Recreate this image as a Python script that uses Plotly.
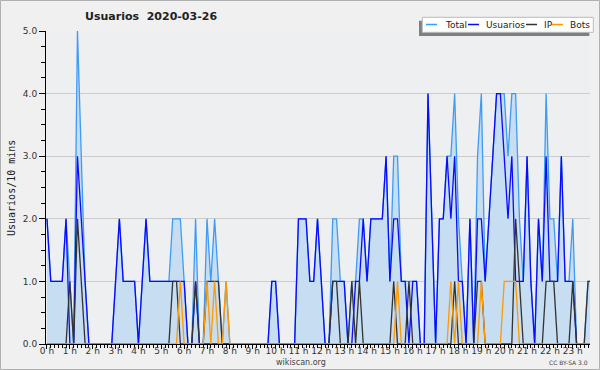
import plotly.graph_objects as go

# 10-minute slots, 6 per hour, 144 per day
slots = list(range(144))

usuarios = [
    2, 1, 1, 1, 1, 2,
    0, 0, 3, 2, 1, 0,
    0, 0, 0, 0, 0, 0,
    1, 2, 1, 1, 1, 1,
    0, 1, 2, 1, 1, 1,
    1, 1, 1, 1, 1, 1,
    1, 0, 0, 1, 0, 0,
    0, 0, 0, 0, 0, 0,
    0, 0, 0, 0, 0, 0,
    0, 0, 0, 0, 0, 1,
    1, 0, 0, 0, 0, 0,
    2, 2, 2, 1, 1, 2,
    1, 0, 0, 1, 1, 1,
    1, 0, 0, 1, 1, 2,
    1, 2, 2, 2, 2, 3,
    1, 2, 2, 1, 1, 0,
    1, 1, 0, 0, 4, 2,
    0, 2, 2, 3, 2, 3,
    1, 1, 0, 2, 0, 2,
    2, 1, 2, 3, 4, 4,
    3, 2, 3, 1, 1, 1,
    3, 1, 0, 2, 1, 3,
    1, 1, 1, 3, 1, 1,
    1, 0, 0, 0, 0, 0,
]

ip = [
    0, 0, 0, 0, 0, 0,
    1, 0, 2, 1, 0, 0,
    0, 0, 0, 0, 0, 0,
    0, 0, 0, 0, 0, 0,
    0, 0, 0, 0, 0, 0,
    0, 0, 0, 1, 1, 0,
    0, 0, 0, 1, 0, 0,
    1, 1, 1, 1, 0, 0,
    0, 0, 0, 0, 0, 0,
    0, 0, 0, 0, 0, 0,
    0, 0, 0, 0, 0, 0,
    0, 0, 0, 0, 0, 0,
    0, 0, 0, 1, 1, 0,
    0, 0, 1, 0, 1, 0,
    0, 0, 0, 0, 0, 0,
    0, 1, 0, 0, 0, 1,
    0, 0, 0, 0, 0, 0,
    0, 0, 0, 0, 0, 1,
    0, 0, 0, 0, 0, 1,
    1, 0, 0, 0, 0, 0,
    0, 0, 0, 2, 1, 0,
    0, 0, 0, 0, 0, 1,
    1, 1, 0, 0, 0, 0,
    1, 0, 0, 0, 1, 1,
]

bots = [
    0, 0, 0, 0, 0, 0,
    0, 0, 0, 0, 0, 0,
    0, 0, 0, 0, 0, 0,
    0, 0, 0, 0, 0, 0,
    0, 0, 0, 0, 0, 0,
    0, 0, 0, 0, 0, 1,
    0, 0, 0, 0, 0, 0,
    1, 0, 1, 0, 0, 1,
    0, 0, 0, 0, 0, 0,
    0, 0, 0, 0, 0, 0,
    0, 0, 0, 0, 0, 0,
    0, 0, 0, 0, 0, 0,
    0, 0, 0, 0, 0, 0,
    0, 0, 0, 0, 0, 0,
    0, 0, 0, 0, 0, 0,
    0, 0, 1, 0, 0, 0,
    0, 0, 0, 0, 0, 0,
    0, 0, 0, 0, 1, 0,
    1, 0, 0, 0, 0, 0,
    1, 0, 0, 0, 0, 0,
    1, 1, 1, 1, 0, 0,
    0, 0, 0, 0, 0, 0,
    0, 0, 0, 0, 0, 0,
    0, 0, 0, 0, 0, 0,
]

total = [
    2, 1, 1, 1, 1, 2,
    1, 0, 5, 3, 1, 0,
    0, 0, 0, 0, 0, 0,
    1, 2, 1, 1, 1, 1,
    0, 1, 2, 1, 1, 1,
    1, 1, 1, 2, 2, 2,
    1, 0, 0, 2, 0, 0,
    2, 1, 2, 1, 0, 1,
    0, 0, 0, 0, 0, 0,
    0, 0, 0, 0, 0, 1,
    1, 0, 0, 0, 0, 0,
    2, 2, 2, 1, 1, 2,
    1, 0, 0, 2, 2, 1,
    1, 0, 1, 1, 2, 2,
    1, 2, 2, 2, 2, 3,
    1, 3, 3, 1, 1, 1,
    1, 1, 0, 0, 4, 2,
    0, 2, 2, 3, 3, 4,
    2, 1, 0, 2, 0, 3,
    4, 1, 2, 3, 4, 4,
    4, 3, 4, 4, 2, 1,
    3, 1, 0, 2, 1, 4,
    2, 2, 1, 3, 1, 1,
    2, 0, 0, 0, 1, 1,
]

hour_ticks = [0, 6, 12, 18, 24, 30, 36, 42, 48, 54, 60, 66,
              72, 78, 84, 90, 96, 102, 108, 114, 120, 126, 132, 138]
hour_labels = ["0 h", "1 h", "2 h", "3 h", "4 h", "5 h", "6 h", "7 h",
               "8 h", "9 h", "10 h", "11 h", "12 h", "13 h", "14 h", "15 h",
               "16 h", "17 h", "18 h", "19 h", "20 h", "21 h", "22 h", "23 h"]
y_ticks = [0, 1, 2, 3, 4, 5]
y_labels = ["0.0", "1.0", "2.0", "3.0", "4.0", "5.0"]

series_names = ["Total", "Usuarios", "IP", "Bots"]
series_colors = ["#3d9cf5", "#0a0aff", "#333333", "#ff9a00"]

W, H = 600, 370
L, R, T, B = 46, 10, 31, 26
PW, PH = W - L - R, H - T - B


def px(xp):
    return (xp - L) / PW


def py(yp):
    return (H - B - yp) / PH


fig = go.Figure()
fig.add_trace(go.Scatter(x=slots, y=total, mode="lines", name=series_names[0],
                         line=dict(color=series_colors[0], width=1.3),
                         fill="tozeroy", fillcolor="#c6ddf2"))
fig.add_trace(go.Scatter(x=slots, y=usuarios, mode="lines", name=series_names[1],
                         line=dict(color=series_colors[1], width=1.3)))
fig.add_trace(go.Scatter(x=slots, y=ip, mode="lines", name=series_names[2],
                         line=dict(color=series_colors[2], width=1.3)))
fig.add_trace(go.Scatter(x=slots, y=bots, mode="lines", name=series_names[3],
                         line=dict(color=series_colors[3], width=1.3)))

tickfont = dict(family="DejaVu Sans", size=9, color="#333333")

fig.update_layout(
    width=W, height=H, autosize=False,
    margin=dict(l=L, r=R, t=T, b=B, pad=0),
    paper_bgcolor="#f0f0f0", plot_bgcolor="#eeeff1",
    showlegend=False,
    xaxis=dict(range=[-0.26, 142.52], tickmode="array", tickvals=hour_ticks,
               ticktext=hour_labels, ticks="outside", ticklen=4, tickcolor="#000",
               tickwidth=1, showline=True, linecolor="#000", linewidth=1,
               showgrid=False, zeroline=False, tickfont=tickfont,
               ticklabelstandoff=-6,
               minor=dict(tickmode="linear", tick0=0, dtick=1, ticks="outside",
                          ticklen=3, tickcolor="#000", tickwidth=1, showgrid=False)),
    yaxis=dict(range=[0, 5], tickmode="array", tickvals=y_ticks, ticktext=y_labels,
               ticks="outside", ticklen=6, tickcolor="#000", tickwidth=1,
               showline=True, linecolor="#000", linewidth=1,
               showgrid=True, gridcolor="#cccccc", gridwidth=1, zeroline=False,
               tickfont=tickfont,
               minor=dict(tickmode="linear", tick0=0, dtick=0.25, ticks="outside",
                          ticklen=4, tickcolor="#000", tickwidth=1, showgrid=False)),
)

shapes = []
annotations = []

# outer frame of the image
shapes.append(dict(type="rect", xref="paper", yref="paper",
                   x0=px(0.5), x1=px(599.5), y0=py(369.5), y1=py(0.5),
                   line=dict(color="#b0b0b0", width=1), fillcolor="rgba(0,0,0,0)"))

# title
annotations.append(dict(text="<b>Usuarios\u00a0\u00a02020-03-26</b>", xref="paper", yref="paper",
                        x=px(151), y=py(16.2), xanchor="center", yanchor="middle",
                        showarrow=False, font=dict(family="DejaVu Sans", size=11, color="#222222")))

# y-axis title
annotations.append(dict(text="Usuarios/10 mins", xref="paper", yref="paper",
                        x=px(11), y=py(188), xanchor="center", yanchor="middle",
                        textangle=-90, showarrow=False,
                        font=dict(family="DejaVu Sans Mono", size=10, color="#222222")))

# footer
annotations.append(dict(text="wikiscan.org", xref="paper", yref="paper",
                        x=px(300.5), y=py(362), xanchor="center", yanchor="middle",
                        showarrow=False, font=dict(family="DejaVu Sans", size=8, color="#444444")))
annotations.append(dict(text="CC BY-SA 3.0", xref="paper", yref="paper",
                        x=px(590), y=py(362.5), xanchor="right", yanchor="middle",
                        showarrow=False, font=dict(family="DejaVu Sans", size=6, color="#444444")))

# legend box with shadow
shapes.append(dict(type="rect", xref="paper", yref="paper",
                   x0=px(419), x1=px(589.3), y0=py(36), y1=py(20.7),
                   line=dict(width=0), fillcolor="#808080"))
shapes.append(dict(type="rect", xref="paper", yref="paper",
                   x0=px(422.3), x1=px(593.3), y0=py(32.3), y1=py(17.3),
                   line=dict(color="#bbbbbb", width=1), fillcolor="#ffffff"))
legend_line_x = [426, 468, 526, 552]
legend_text_x = [442.7, 484, 541.7, 568]
for name, color, lx, tx in zip(series_names, series_colors, legend_line_x, legend_text_x):
    shapes.append(dict(type="line", xref="paper", yref="paper",
                       x0=px(lx), x1=px(lx + 11), y0=py(24.5), y1=py(24.5),
                       line=dict(color=color, width=1.5)))
    annotations.append(dict(text=name, xref="paper", yref="paper",
                            x=px(tx), y=py(24.8), xanchor="left", yanchor="middle",
                            showarrow=False,
                            font=dict(family="DejaVu Sans", size=9, color="#222222")))

fig.update_layout(shapes=shapes, annotations=annotations)

fig.write_html("out.html", config={"displayModeBar": False},
               post_script="document.body.style.margin='0';")
